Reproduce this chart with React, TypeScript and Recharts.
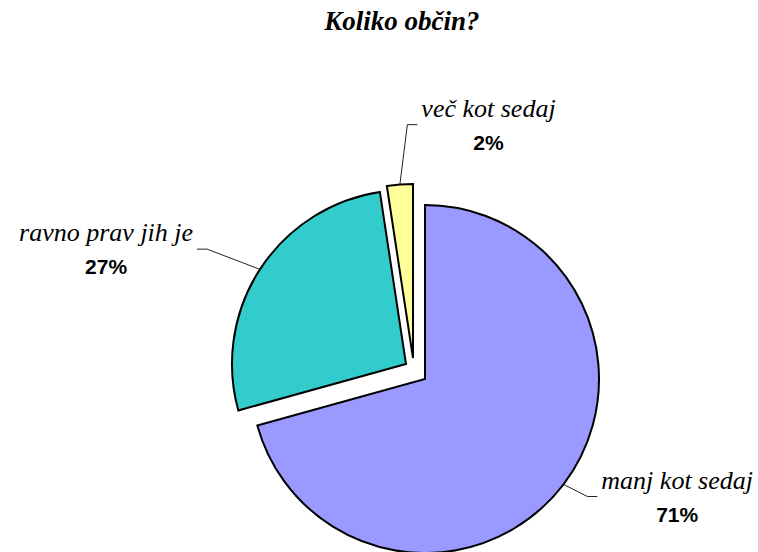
import React from 'react';
import { PieChart, Pie, Cell } from 'recharts';

const categories = ['manj kot sedaj', 'ravno prav jih je', 'več kot sedaj'];
const shares = [70.7, 26.9, 2.4];
const colors = ['#9999FF', '#33CCCC', '#FFFF99'];

// pie geometry
const CX = 425;
const CY = 379;
const R = 174;
// how far each slice is pulled out of the pie
const explode = [
  { dx: 0, dy: 0 },
  { dx: -19, dy: -15 },
  { dx: -12, dy: -21 },
];
// leader line: length along the radius, then a small nudge for the elbow
const leader = [
  { reach: 30, nx: 0, ny: -6 },
  { reach: 63, nx: 0, ny: 14 },
  { reach: 60, nx: 12, ny: 0 },
];

const data = categories.map((name, i) => ({ name, value: shares[i] }));

const SERIF = 'Liberation Serif';
const SANS = 'Liberation Sans';
const NAME_FONT = `italic 26px "${SERIF}"`;

let ctx: CanvasRenderingContext2D | null = null;
const textWidth = (s: string, font: string) => {
  if (!ctx) ctx = document.createElement('canvas').getContext('2d');
  if (!ctx) return s.length * 10.6;
  ctx.font = font;
  return ctx.measureText(s).width;
};

const RAD = Math.PI / 180;

const renderLabel = (target: number) => (p: any) => {
  if (p.index !== target) return <g />;
  const { cx, cy, midAngle, outerRadius, name, percent } = p;
  const cos = Math.cos(-midAngle * RAD);
  const sin = Math.sin(-midAngle * RAD);
  const sx = cx + outerRadius * cos;
  const sy = cy + outerRadius * sin;
  const l = leader[target];
  const ex = sx + l.reach * cos + l.nx;
  const ey = sy + l.reach * sin + l.ny;
  const side = cos > -0.2 ? 1 : -1;
  const tx = ex + side * 10;
  const w = textWidth(name, NAME_FONT);
  const mid = tx + side * (4 + w / 2);
  return (
    <g>
      <polyline points={`${sx},${sy} ${ex},${ey} ${tx},${ey}`} fill="none" stroke="#222" strokeWidth={1} />
      <text
        x={mid}
        y={ey - 8}
        textAnchor="middle"
        style={{ fontFamily: SERIF, fontStyle: 'italic', fontSize: 26, fill: '#000' }}
      >
        {name}
      </text>
      <text
        x={mid}
        y={ey + 25}
        textAnchor="middle"
        style={{ fontFamily: SANS, fontWeight: 'bold', fontSize: 21, fill: '#000' }}
      >
        {`${Math.round(percent * 100)}%`}
      </text>
    </g>
  );
};

export default function App() {
  return (
    <div style={{ position: 'absolute', left: 0, top: 0, width: 758, height: 552, background: '#fff' }}>
      <div
        style={{
          position: 'absolute',
          left: 202,
          top: 8,
          width: 400,
          textAlign: 'center',
          fontFamily: SERIF,
          fontStyle: 'italic',
          fontWeight: 'bold',
          fontSize: 27,
          lineHeight: '27px',
          color: '#000',
        }}
      >
        Koliko občin?
      </div>
      <PieChart width={758} height={552} margin={{ top: 0, right: 0, bottom: 0, left: 0 }}>
        {colors.map((c, i) => (
          <Pie
            key={i}
            data={data}
            dataKey="value"
            nameKey="name"
            cx={CX + explode[i].dx}
            cy={CY + explode[i].dy}
            outerRadius={R}
            startAngle={90}
            endAngle={-270}
            label={renderLabel(i)}
            labelLine={false}
            isAnimationActive={false}
          >
            {data.map((_, j) => (
              <Cell
                key={j}
                fill={j === i ? c : 'none'}
                stroke={j === i ? '#000' : 'none'}
                strokeWidth={2}
              />
            ))}
          </Pie>
        ))}
      </PieChart>
    </div>
  );
}
